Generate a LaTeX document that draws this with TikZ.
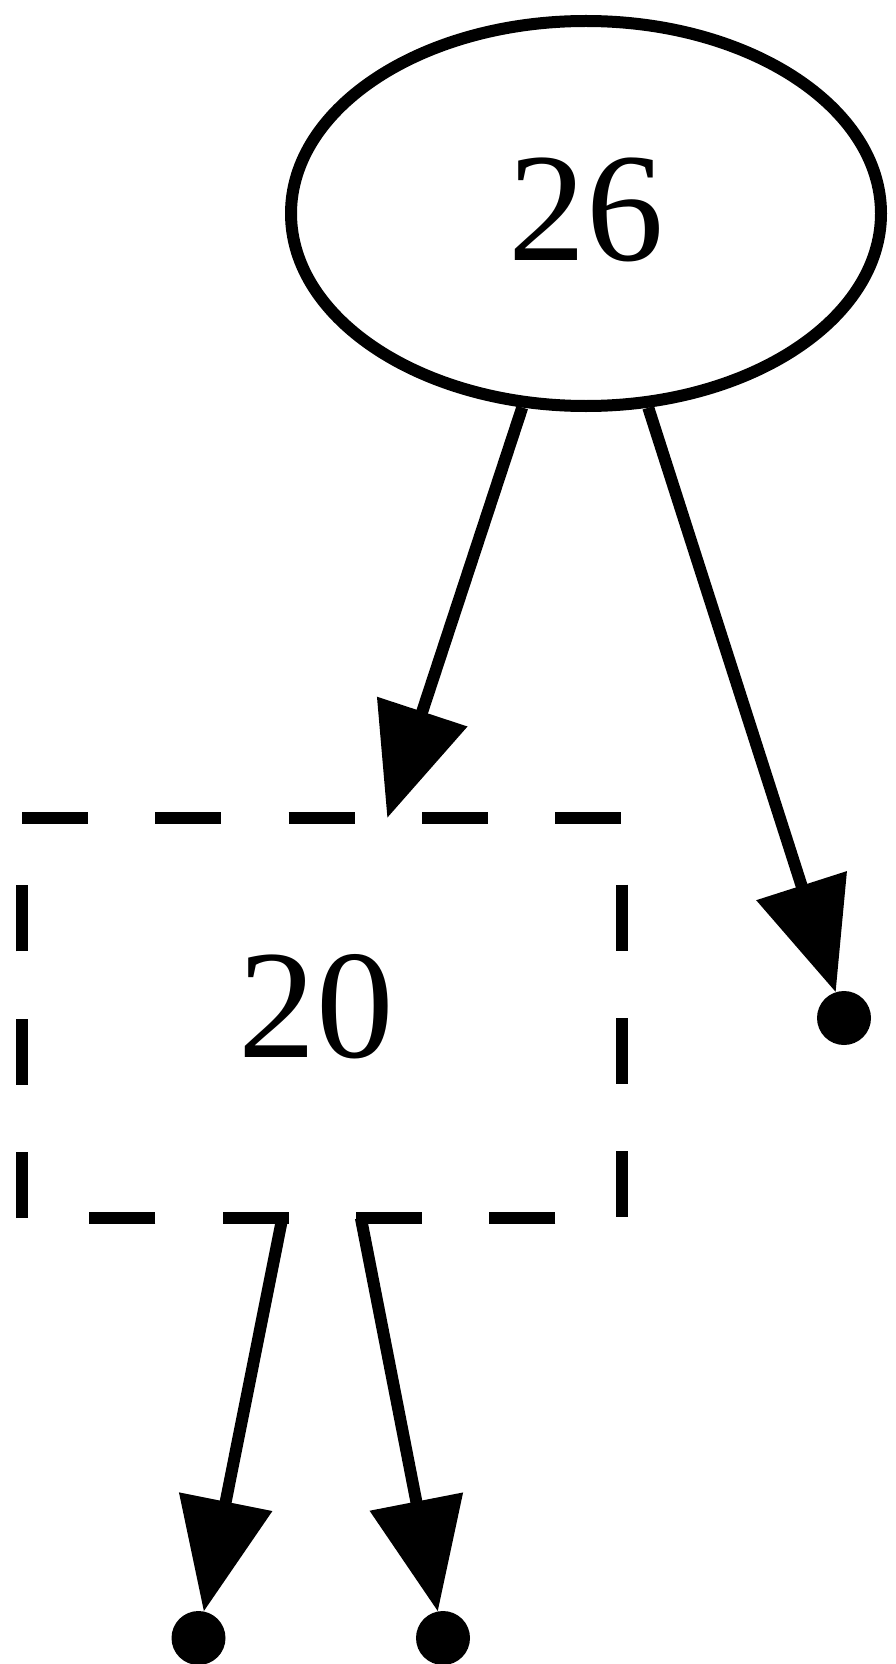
\documentclass[tikz,border=0pt]{standalone}
\usepackage{fontspec}
\setmainfont{Liberation Serif}
\usetikzlibrary{arrows.meta,shapes.geometric}
\begin{document}
\begin{tikzpicture}[x=0.5pt,y=-0.5pt,
  lw/.style={line width=6pt},
  edge/.style={lw,-{Triangle[length=56pt,width=46pt]}},
  pointnode/.style={circle,fill=black,draw=none,inner sep=0pt,minimum size=27pt,outer sep=0pt},
  lbl/.style={inner sep=0pt,font=\fontsize{77.5pt}{90pt}\selectfont}
]
\useasboundingbox (0,0) rectangle (895,1664);
\node[ellipse,draw,lw,inner sep=0pt,minimum width=295pt,minimum height=192.5pt] (e26) at (586,213.5) {};
\node[lbl] (t26) at ([shift={(0pt,2pt)}]e26.center) {26};
\node[rectangle,draw=none,inner sep=0pt,outer sep=0pt,minimum width=300pt,minimum height=200pt] (n20) at (322,1018) {};
\draw[lw,dash pattern=on 33pt off 33.667pt] (n20.south west) -- (n20.north west) -- (n20.north east) -- (n20.south east) -- cycle;
\node[lbl] (t20) at ([shift={(-3pt,5.5pt)}]n20.center) {20};
\node[pointnode] (pR) at (844,1018) {};
\node[pointnode] (pL) at (198.5,1638) {};
\node[pointnode] (pM) at (443,1638) {};
\draw[edge] (e26) -- (n20);
\draw[edge] (e26) -- (pR);
\draw[edge] (n20) -- (pL);
\draw[edge] (n20) -- (pM);
\end{tikzpicture}
\end{document}
